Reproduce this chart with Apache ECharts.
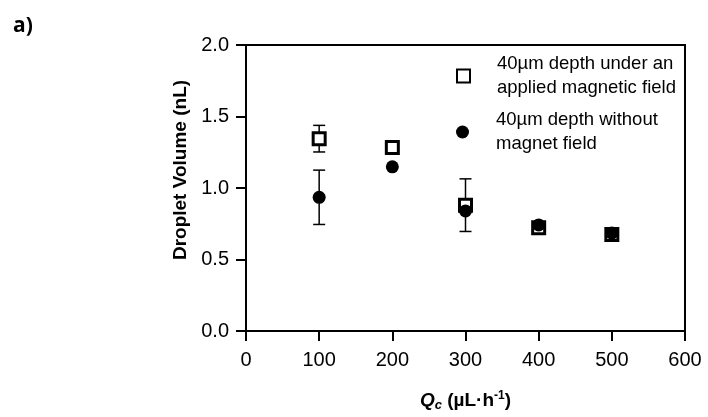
<!DOCTYPE html>
<html><head><meta charset="utf-8">
<script src="https://cdn.jsdelivr.net/npm/echarts@6/dist/echarts.min.js"></script>
<style>html,body{margin:0;padding:0;background:#fff}#c{width:708px;height:417px}</style>
</head><body><div id="c"></div>
<script>
var xValues = [100, 200, 300, 400, 500];
var magneticMean = [1.345, 1.283, 0.88, 0.722, 0.675];
var magneticErr = [0.093, 0, 0.184, 0, 0];
var noMagnetMean = [0.935, 1.148, 0.84, 0.742, 0.685];
var noMagnetErr = [0.19, 0, 0, 0, 0];
var xTicks = [0, 100, 200, 300, 400, 500, 600];
var yTicks = [0, 0.5, 1.0, 1.5, 2.0];
var seriesNames = ['40µm depth under an\napplied magnetic field', '40µm depth without\nmagnet field'];

function pairs(xs, ys){ return xs.map(function(x,i){return [x, ys[i]];}); }
function errData(xs, m, e){ var out=[]; xs.forEach(function(x,i){ if(e[i]>0) out.push([x, m[i]-e[i], m[i]+e[i]]); }); return out; }
function errRender(params, api){
  var x = api.value(0), lo = api.value(1), hi = api.value(2);
  var pLo = api.coord([x, lo]), pHi = api.coord([x, hi]);
  var cw = 6;
  var st = {stroke:'#000', lineWidth:1.5};
  return {type:'group', children:[
    {type:'line', shape:{x1:pLo[0],y1:pLo[1],x2:pHi[0],y2:pHi[1]}, style:st},
    {type:'line', shape:{x1:pLo[0]-cw,y1:pLo[1],x2:pLo[0]+cw,y2:pLo[1]}, style:st},
    {type:'line', shape:{x1:pHi[0]-cw,y1:pHi[1],x2:pHi[0]+cw,y2:pHi[1]}, style:st}
  ]};
}
var chart = echarts.init(document.getElementById('c'), null, {renderer:'canvas'});
var font = 'Liberation Sans, Arial, sans-serif';
var legendText = {fontSize:18.5, color:'#000', lineHeight:24, padding:[0,0,0,22], fontFamily:font};
chart.setOption({
  animation:false,
  textStyle:{fontFamily:font},
  title:{text:'a)', left:8, top:11, textStyle:{fontFamily:'Open Sans, Liberation Sans, sans-serif', fontWeight:'bold', fontSize:21, color:'#000'}},
  grid:{left:246, right:23, top:45, bottom:83, show:true, borderColor:'#000', borderWidth:2, backgroundColor:'transparent'},
  legend:[
    {data:[seriesNames[0]], left:451, top:47, orient:'vertical', itemWidth:13, itemHeight:13, itemGap:0, textStyle:legendText},
    {data:[seriesNames[1]], left:451, top:103, orient:'vertical', itemWidth:13, itemHeight:13, itemGap:0, textStyle:legendText}
  ],
  xAxis:{type:'value', min:0, max:600, interval:100,
    name:'{q|Q}{c|c}{b| (µL·h}{s|-1}{b|)}', nameLocation:'middle', nameGap:59,
    nameTextStyle:{rich:{
      q:{fontSize:19, fontWeight:'bold', fontStyle:'italic', color:'#000', fontFamily:font},
      c:{fontSize:13, fontWeight:'bold', fontStyle:'italic', color:'#000', fontFamily:font, verticalAlign:'bottom', padding:[9,0,0,0]},
      b:{fontSize:19, fontWeight:'bold', color:'#000', fontFamily:font},
      s:{fontSize:12, fontWeight:'bold', color:'#000', fontFamily:font, verticalAlign:'top', padding:[0,0,9,0]}
    }},
    axisLine:{lineStyle:{color:'#000', width:2}},
    axisTick:{show:true, length:10, lineStyle:{color:'#000', width:2}},
    axisLabel:{fontSize:20, color:'#000', margin:19, fontFamily:font},
    splitLine:{show:false}
  },
  yAxis:{type:'value', min:0, max:2, interval:0.5,
    name:'Droplet Volume (nL)', nameLocation:'middle', nameGap:56, nameRotate:90,
    nameTextStyle:{fontSize:19, fontWeight:'bold', color:'#000', fontFamily:font, padding:[0,0,0,36]},
    axisLine:{show:true, lineStyle:{color:'#000', width:2}},
    axisTick:{show:true, length:10, lineStyle:{color:'#000', width:2}},
    axisLabel:{fontSize:20, color:'#000', margin:17, fontFamily:font, formatter:function(v){return v.toFixed(1);}},
    splitLine:{show:false}
  },
  series:[
    {type:'custom', renderItem:errRender, data:errData(xValues, magneticMean, magneticErr), z:1, silent:true},
    {type:'custom', renderItem:errRender, data:errData(xValues, noMagnetMean, noMagnetErr), z:1, silent:true},
    {name:seriesNames[0], type:'scatter', data:pairs(xValues, magneticMean), symbol:'rect', symbolSize:12,
     itemStyle:{color:'#fff', borderColor:'#000', borderWidth:3, opacity:1}, z:2},
    {name:seriesNames[1], type:'scatter', data:pairs(xValues, noMagnetMean), symbol:'circle', symbolSize:13,
     itemStyle:{color:'#000', opacity:1}, z:3}
  ]
});
</script></body></html>
